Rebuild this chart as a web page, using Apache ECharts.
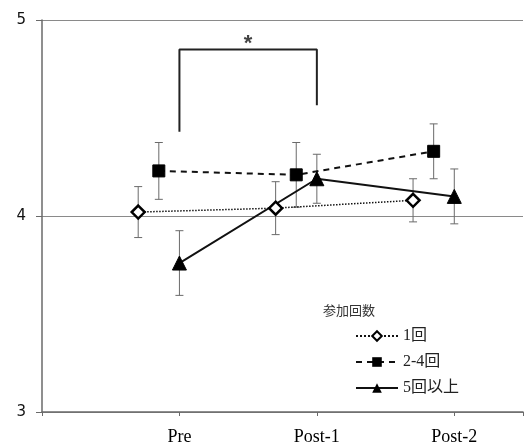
<!DOCTYPE html>
<html>
<head>
<meta charset="utf-8">
<script src="https://cdn.jsdelivr.net/npm/echarts@6/dist/echarts.min.js"></script>
<style>
  html, body { margin: 0; padding: 0; background: #fff; }
  #chart { width: 526px; height: 446px; }
</style>
</head>
<body>
<div id="chart"></div>
<script>
var categories = ['Pre', 'Post-1', 'Post-2'];
var groupNames = ['1回', '2-4回', '5回以上'];
var offsets = [-0.3, -0.15, 0];

var mean1 = [4.02, 4.04, 4.08];
var err1 = [0.13, 0.135, 0.11];
var mean2 = [4.23, 4.21, 4.33];
var err2 = [0.145, 0.165, 0.14];
var mean3 = [3.76, 4.19, 4.10];
var err3 = [0.165, 0.125, 0.14];

// significance bracket between Pre and Post-1 (5回以上)
var bracket = [[1, 4.43], [1, 4.85], [2, 4.85], [2, 4.565]];
var starPos = [[1.5, 4.85]];

var chart = echarts.init(document.getElementById('chart'));

function points(means, k) {
  return means.map(function (m, i) { return [i + 1 + offsets[k], m]; });
}
function bars(means, errs, k) {
  return means.map(function (m, i) { return [i + 1 + offsets[k], m - errs[i], m + errs[i]]; });
}

function errorBarItem(params, api) {
  var x = api.value(0);
  var hi = api.coord([x, api.value(2)]);
  var lo = api.coord([x, api.value(1)]);
  var cap = 4;
  var st = { stroke: '#6a6a6a', lineWidth: 1 };
  return {
    type: 'group',
    children: [
      { type: 'line', shape: { x1: hi[0], y1: hi[1], x2: lo[0], y2: lo[1] }, style: st },
      { type: 'line', shape: { x1: hi[0] - cap, y1: hi[1], x2: hi[0] + cap, y2: hi[1] }, style: st },
      { type: 'line', shape: { x1: lo[0] - cap, y1: lo[1], x2: lo[0] + cap, y2: lo[1] }, style: st }
    ]
  };
}

function errSeries(means, errs, k) {
  return {
    type: 'custom',
    renderItem: errorBarItem,
    data: bars(means, errs, k),
    z: 1,
    silent: true
  };
}

var option = {
  backgroundColor: '#fff',
  animation: false,
  title: {
    text: '参加回数',
    left: 318,
    top: 299,
    textStyle: { fontFamily: 'Noto Sans CJK JP', fontSize: 13, fontWeight: 'normal', color: '#333' }
  },
  legend: {
    data: groupNames,
    orient: 'vertical',
    left: 350,
    top: 323,
    itemWidth: 42,
    itemHeight: 12,
    itemGap: 10,
    textStyle: { fontFamily: 'Liberation Serif, Noto Sans CJK JP', fontSize: 16, lineHeight: 16, color: '#222' }
  },
  grid: { left: 42, right: 0, top: 20, bottom: 33, containLabel: false },
  xAxis: {
    type: 'value',
    min: 0,
    max: 3.5,
    interval: 1,
    axisLine: { lineStyle: { color: '#6a6a6a', width: 1.5 } },
    axisTick: { show: true, length: 4, lineStyle: { color: '#6a6a6a' } },
    splitLine: { show: false },
    axisLabel: {
      margin: 16,
      fontFamily: 'Liberation Serif',
      fontSize: 18,
      color: '#000',
      formatter: function (v) {
        return (v >= 1 && v <= 3 && v % 1 === 0) ? categories[v - 1] : '';
      }
    }
  },
  yAxis: {
    type: 'value',
    min: 3,
    max: 5,
    interval: 1,
    axisLine: { show: true, lineStyle: { color: '#6a6a6a', width: 1.5 } },
    axisTick: { show: true, length: 6, lineStyle: { color: '#6a6a6a' } },
    splitLine: { show: true, lineStyle: { color: '#8a8a8a', width: 1 } },
    axisLabel: { margin: 16, fontFamily: 'DejaVu Sans', fontSize: 15, color: '#111' }
  },
  series: [
    errSeries(mean1, err1, 0),
    errSeries(mean2, err2, 1),
    errSeries(mean3, err3, 2),
    {
      name: groupNames[0],
      type: 'line',
      data: points(mean1, 0),
      symbol: 'diamond',
      symbolSize: 13,
      z: 3,
      lineStyle: { color: '#111', width: 1.5, type: 'dotted' },
      itemStyle: { color: '#fff', borderColor: '#000', borderWidth: 2.5 }
    },
    {
      name: groupNames[1],
      type: 'line',
      data: points(mean2, 1),
      symbol: 'rect',
      symbolSize: 12,
      z: 3,
      lineStyle: { color: '#111', width: 2, type: [6, 5] },
      itemStyle: { color: '#000', borderColor: '#000' }
    },
    {
      name: groupNames[2],
      type: 'line',
      data: points(mean3, 2),
      symbol: 'triangle',
      symbolSize: 14,
      z: 3,
      lineStyle: { color: '#111', width: 2, type: 'solid' },
      itemStyle: { color: '#000', borderColor: '#000' }
    },
    {
      type: 'line',
      data: bracket,
      symbol: 'none',
      silent: true,
      z: 2,
      lineStyle: { color: '#222', width: 2 }
    },
    {
      type: 'scatter',
      data: starPos,
      symbolSize: 0,
      silent: true,
      label: {
        show: true,
        position: 'top',
        distance: -6,
        formatter: '*',
        fontFamily: 'Liberation Sans',
        fontWeight: 'bold',
        fontSize: 22,
        color: '#111'
      }
    }
  ]
};

chart.setOption(option);
</script>
</body>
</html>
